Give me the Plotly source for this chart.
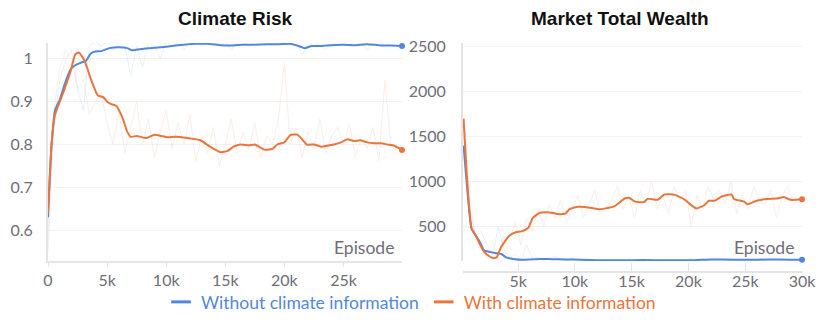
"""Two-panel training curves: climate risk and market total wealth."""
import plotly.graph_objects as go

BLUE = "#5387DD"
ORANGE = "#E8763C"
TICK_GRAY = "#6E6E78"
AXIS_GRAY = "#E4E4E8"
GRID_GRAY = "#F2F2F4"
FONT = "Lato"

# ---- Climate Risk (left) ----
risk_blue_ep = [0, 300, 600, 1000, 1400, 1900, 2300, 2700, 3200, 3600, 4000, 4500, 5200,
                6000, 6700, 7100, 7600, 8500, 9500, 10500, 11500, 12500, 13500, 14600,
                15500, 16500, 17500, 18500, 19500, 20500, 21200, 21700, 22300, 23000,
                24000, 25000, 26000, 27000, 28000, 29000, 29950]
risk_blue = [0.63, 0.80, 0.88, 0.905, 0.94, 0.975, 0.985, 0.99, 0.995, 1.012, 1.017, 1.018,
             1.025, 1.027, 1.025, 1.02, 1.022, 1.025, 1.027, 1.03, 1.033, 1.035, 1.035,
             1.032, 1.031, 1.033, 1.033, 1.034, 1.034, 1.035, 1.03, 1.025, 1.03, 1.03,
             1.032, 1.033, 1.032, 1.034, 1.032, 1.031, 1.03]

risk_orange_ep = [0, 300, 600, 1000, 1400, 1900, 2300, 2600, 3000, 3300, 3600, 4200, 4700,
                  5000, 5300, 5800, 6100, 6400, 6700, 7000, 7500, 8300, 9000, 9600, 10100,
                  10800, 11800, 12900, 13700, 14600, 15200, 15700, 16300, 17000, 17500,
                  18300, 19000, 19400, 20000, 20500, 21100, 21500, 21900, 22500, 23100,
                  23600, 24200, 24800, 25300, 25900, 26400, 27000, 27600, 28200, 28700,
                  29300, 29950]
risk_orange = [0.64, 0.80, 0.87, 0.90, 0.93, 0.97, 1.01, 1.015, 1.0, 0.98, 0.955, 0.915,
               0.91, 0.90, 0.895, 0.89, 0.875, 0.855, 0.83, 0.818, 0.82, 0.815, 0.823, 0.82,
               0.817, 0.818, 0.815, 0.81, 0.795, 0.782, 0.785, 0.795, 0.80, 0.798, 0.80,
               0.788, 0.79, 0.80, 0.805, 0.822, 0.823, 0.812, 0.80, 0.80, 0.795, 0.797, 0.80,
               0.805, 0.812, 0.808, 0.81, 0.805, 0.803, 0.803, 0.80, 0.797, 0.787]

raw_ep = list(range(0, 30000, 500))
risk_blue_raw = [0.55, 0.85, 0.95, 1.0, 1.02, 0.93, 0.88, 1.03, 1.04, 1.03, 1.04, 1.02,
                 1.04, 1.03, 0.96, 1.03, 0.98, 1.04, 1.03, 1.0, 1.04, 1.03, 1.04, 1.02,
                 1.04, 1.04, 1.03, 1.04, 1.04, 1.03, 1.04, 1.02, 1.04, 1.04, 1.03, 1.04,
                 1.04, 1.04, 1.03, 1.04, 1.04, 1.03, 1.04, 1.01, 1.03, 1.04, 1.03, 1.02,
                 1.04, 1.03, 1.04, 1.04, 1.03, 1.04, 1.02, 1.04, 1.04, 1.03, 1.04, 1.03]
risk_orange_raw = [0.6, 0.88, 0.98, 1.02, 1.0, 0.93, 0.95, 0.87, 0.9, 0.92, 0.85, 0.8,
                   0.88, 0.78, 0.84, 0.9, 0.8, 0.86, 0.77, 0.83, 0.88, 0.79, 0.85, 0.8,
                   0.87, 0.76, 0.82, 0.78, 0.84, 0.75, 0.8, 0.86, 0.78, 0.83, 0.79, 0.85,
                   0.77, 0.82, 0.8, 0.86, 0.99, 0.8, 0.84, 0.77, 0.83, 0.79, 0.86, 0.78,
                   0.82, 0.84, 0.8, 0.85, 0.77, 0.82, 0.79, 0.84, 0.76, 0.95, 0.8, 0.78]

# ---- Market Total Wealth (right) ----
wealth_blue_ep = [200, 500, 900, 1300, 1600, 2000, 2400, 2800, 3500, 4000, 4600, 5300, 6000,
                  6900, 8000, 9200, 10500, 12100, 14000, 16000, 18000, 20000, 21000, 22000,
                  23000, 25000, 27000, 29000, 30000]
wealth_blue = [1400, 950, 480, 400, 340, 240, 225, 215, 200, 160, 145, 135, 138, 145, 142,
               140, 135, 130, 130, 132, 130, 130, 135, 140, 138, 135, 138, 137, 137]

wealth_orange_ep = [200, 500, 900, 1300, 1600, 2000, 2400, 2800, 3100, 3500, 4200, 4800,
                    5300, 5900, 6300, 6900, 7800, 8600, 9200, 9500, 10300, 11500, 12100,
                    12700, 13500, 14400, 14800, 15300, 16100, 16400, 17300, 17900, 18800,
                    19700, 20200, 20700, 21400, 21800, 22300, 22900, 23300, 23800, 24000,
                    24900, 25200, 26000, 26900, 27800, 28400, 29000, 30000]
wealth_orange = [1700, 1050, 485, 400, 318, 225, 180, 155, 160, 274, 400, 440, 450, 490, 600,
                 655, 660, 640, 650, 695, 723, 710, 695, 705, 730, 815, 820, 780, 775, 810,
                 800, 860, 855, 800, 745, 705, 740, 790, 790, 835, 850, 860, 810, 780, 750,
                 790, 810, 815, 830, 800, 805]

wealth_raw_ep = list(range(250, 30000, 500))
wealth_blue_raw = [1400, 700, 400, 450, 300, 180, 500, 250, 150, 200, 120, 300, 150, 160,
                   130, 140, 180, 130, 120, 150, 130, 125, 140, 120, 130, 135, 125, 130,
                   140, 120, 130, 125, 135, 130, 120, 140, 130, 125, 135, 130, 150, 140,
                   130, 125, 135, 140, 130, 125, 135, 130, 140, 130, 125, 135, 140, 130,
                   135, 130, 140, 135]
wealth_orange_raw = [1700, 900, 350, 300, 200, 150, 200, 400, 350, 550, 300, 600, 450, 700,
                     500, 750, 600, 800, 550, 700, 850, 600, 750, 900, 650, 700, 800, 950,
                     700, 850, 600, 900, 750, 1000, 700, 850, 650, 950, 800, 900, 500, 850,
                     700, 950, 800, 900, 750, 1000, 650, 850, 700, 950, 800, 750, 900, 600,
                     850, 950, 750, 800]

# the page body adds an 8px offset, so the figure itself is 8px smaller
OFF = 8
W, H = 830 - OFF, 323 - OFF


def px_x(p):
    return (p - OFF) / W


def px_y(p):
    return 1 - (p - OFF) / H


fig = go.Figure()


def add_panel(xa, ya, raws, smooths):
    for ep, vals, color in raws:
        fig.add_trace(go.Scatter(
            x=ep, y=vals, xaxis=xa, yaxis=ya, mode="lines", showlegend=False,
            line=dict(color=color, width=1), opacity=0.12, hoverinfo="skip"))
    for ep, vals, color in smooths:
        fig.add_trace(go.Scatter(
            x=ep, y=vals, xaxis=xa, yaxis=ya, mode="lines", showlegend=False,
            line=dict(color=color, width=2, shape="spline", smoothing=0.5)))
        fig.add_trace(go.Scatter(
            x=[ep[-1]], y=[vals[-1]], xaxis=xa, yaxis=ya, mode="markers",
            showlegend=False, marker=dict(color=color, size=6), cliponaxis=False))


add_panel("x", "y",
          [(raw_ep, risk_blue_raw, BLUE), (raw_ep, risk_orange_raw, ORANGE)],
          [(risk_blue_ep, risk_blue, BLUE), (risk_orange_ep, risk_orange, ORANGE)])
add_panel("x2", "y2",
          [(wealth_raw_ep, wealth_blue_raw, BLUE), (wealth_raw_ep, wealth_orange_raw, ORANGE)],
          [(wealth_blue_ep, wealth_blue, BLUE), (wealth_orange_ep, wealth_orange, ORANGE)])

# legend entries: short dashes like the original
for name, color in [("Without climate information", BLUE), ("With climate information", ORANGE)]:
    fig.add_trace(go.Scatter(
        x=[None], y=[None], mode="markers", xaxis="x", yaxis="y",
        name=f'<span style="color:{color}">{name}</span>',
        marker=dict(symbol="line-ew", size=14, line=dict(width=3, color=color))))

tick_font = dict(family=FONT, size=16, color=TICK_GRAY)
y_top, y_bot = px_y(43), px_y(261)

fig.update_layout(
    width=W, height=H,
    margin=dict(l=0, r=0, t=0, b=0, autoexpand=False),
    paper_bgcolor="white", plot_bgcolor="white",
    font=dict(family=FONT),
    showlegend=True,
    legend=dict(orientation="h", x=px_x(411), xanchor="center", y=px_y(302), yanchor="middle",
                font=dict(family=FONT, size=17.5), itemwidth=30, tracegroupgap=0,
                bgcolor="rgba(0,0,0,0)"),
    xaxis=dict(domain=[px_x(48), px_x(402)], range=[0, 29950], anchor="y", automargin=False,
               tickvals=[0, 5000, 10000, 15000, 20000, 25000],
               ticktext=["0", "5k", "10k", "15k", "20k", "25k"],
               showgrid=False, zeroline=False, showline=True, linecolor=AXIS_GRAY,
               linewidth=2, ticks="outside", ticklen=4, tickcolor=AXIS_GRAY,
               ticklabelstandoff=0, tickfont=tick_font),
    yaxis=dict(domain=[y_bot, y_top], range=[0.528, 1.037], anchor="x", automargin=False,
               tickvals=[0.6, 0.7, 0.8, 0.9, 1.0], ticktext=["0.6", "0.7", "0.8", "0.9", "1"],
               showgrid=True, gridcolor=GRID_GRAY, zeroline=False, showline=True,
               linecolor=AXIS_GRAY, linewidth=2, ticks="", ticklabelstandoff=10,
               tickfont=tick_font),
    xaxis2=dict(domain=[px_x(463), px_x(802)], range=[150, 30000], anchor="free",
                position=px_y(272), automargin=False,
                tickvals=[5000, 10000, 15000, 20000, 25000, 30000],
                ticktext=["5k", "10k", "15k", "20k", "25k", "30k"],
                showgrid=False, zeroline=False, showline=True, linecolor=AXIS_GRAY,
                linewidth=2, ticks="inside", ticklen=8, tickcolor=AXIS_GRAY,
                ticklabelstandoff=-5, tickfont=tick_font),
    yaxis2=dict(domain=[y_bot, y_top], range=[122, 2538], anchor="x2", automargin=False,
                tickvals=[500, 1000, 1500, 2000, 2500],
                showgrid=True, gridcolor=GRID_GRAY, zeroline=False, showline=True,
                linecolor=AXIS_GRAY, linewidth=2, ticks="", ticklabelstandoff=12,
                tickfont=tick_font),
    annotations=[
        dict(text="<b>Climate Risk</b>", x=px_x(235), y=px_y(18), xref="paper", yref="paper",
             xanchor="center", yanchor="middle", showarrow=False,
             font=dict(family="Liberation Sans", size=19, color="#111111")),
        dict(text="<b>Market Total Wealth</b>", x=px_x(620), y=px_y(18), xref="paper",
             yref="paper", xanchor="center", yanchor="middle", showarrow=False,
             font=dict(family="Liberation Sans", size=19, color="#111111")),
        dict(text="Episode", x=1, y=0, xref="x domain", yref="y domain", xanchor="right",
             yanchor="bottom", xshift=-6, yshift=1, showarrow=False,
             font=dict(family=FONT, size=17.5, color=TICK_GRAY)),
        dict(text="Episode", x=1, y=0, xref="x2 domain", yref="y2 domain", xanchor="right",
             yanchor="bottom", xshift=-6, yshift=1, showarrow=False,
             font=dict(family=FONT, size=17.5, color=TICK_GRAY)),
    ],
)

fig.write_html("out.html")
